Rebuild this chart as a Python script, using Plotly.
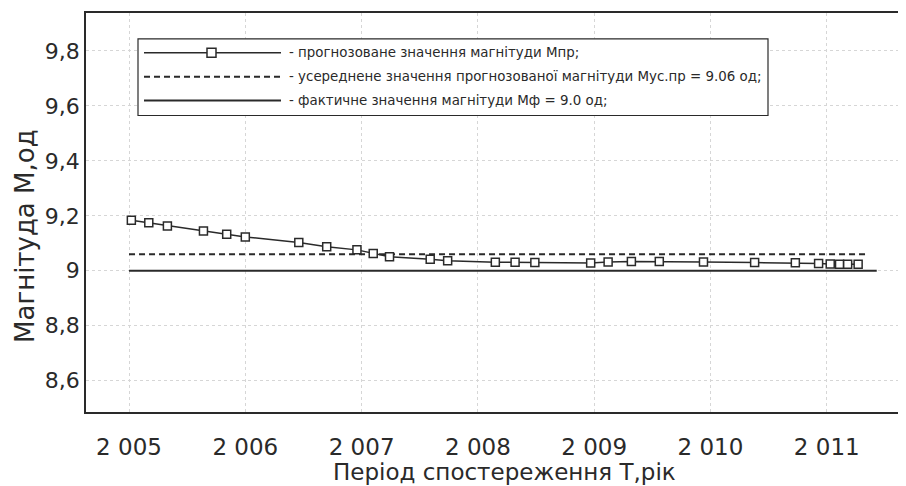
import plotly.graph_objects as go

# ---- data ----
years_forecast = [2005.02, 2005.17, 2005.33, 2005.64, 2005.84, 2006.00, 2006.46, 2006.70,
                  2006.96, 2007.10, 2007.24, 2007.59, 2007.74, 2008.15, 2008.32, 2008.49,
                  2008.97, 2009.12, 2009.32, 2009.56, 2009.94, 2010.38, 2010.73, 2010.93,
                  2011.03, 2011.11, 2011.18, 2011.27]
mag_forecast = [9.184, 9.175, 9.163, 9.145, 9.133, 9.123, 9.103, 9.087,
                9.076, 9.063, 9.051, 9.042, 9.036, 9.031, 9.031, 9.030,
                9.028, 9.032, 9.034, 9.034, 9.032, 9.030, 9.029, 9.026,
                9.025, 9.024, 9.024, 9.024]
avg_years = [2005.0, 2011.35]
avg_value = [9.06, 9.06]
fact_years = [2005.0, 2011.43]
fact_value = [9.0, 9.0]

x_tickvals = [2005, 2006, 2007, 2008, 2009, 2010, 2011]
x_ticktext = ["2 005", "2 006", "2 007", "2 008", "2 009", "2 010", "2 011"]
y_tickvals = [8.6, 8.8, 9.0, 9.2, 9.4, 9.6, 9.8]
y_ticktext = ["8,6", "8,8", "9", "9,2", "9,4", "9,6", "9,8"]

legend_texts = [
    "- прогнозоване значення магнітуди Мпр;",
    "- усереднене значення прогнозованої магнітуди Мус.пр = 9.06 од;",
    "- фактичне значення магнітуди Мф = 9.0 од;",
]
x_title = "Період спостереження Т,рік"
y_title = "Магнітуда М,од"

# ---- layout geometry (page pixels; the page body has an 8px margin) ----
OFF = 8
W, H = 906 - OFF, 486 - OFF
L, R, T, B = 86, 900, 11, 412          # plot frame in page pixels
FONT = "DejaVu Sans, Verdana, sans-serif"
INK = "#2a2a2a"


def px(x):
    return (x - L) / (R - L)


def py(y):
    return (B - y) / (B - T)


fig = go.Figure()
fig.add_trace(go.Scatter(x=fact_years, y=fact_value, mode="lines",
                         line=dict(color=INK, width=2), showlegend=False))
fig.add_trace(go.Scatter(x=avg_years, y=avg_value, mode="lines",
                         line=dict(color=INK, width=2.2, dash="6px,4px"), showlegend=False))
fig.add_trace(go.Scatter(x=years_forecast, y=mag_forecast, mode="lines+markers",
                         line=dict(color=INK, width=1.5),
                         marker=dict(symbol="square", size=8, color="white",
                                     line=dict(color=INK, width=1.5)),
                         showlegend=False))

shapes = []
annotations = []
# legend box
shapes.append(dict(type="rect", xref="paper", yref="paper",
                   x0=px(138), x1=px(768), y0=py(37), y1=py(114),
                   line=dict(color=INK, width=1.2), fillcolor="white", layer="above"))
rows = [51, 75, 99]
for i, ry in enumerate(rows):
    dash = "solid" if i != 1 else "6px,4px"
    shapes.append(dict(type="line", xref="paper", yref="paper",
                       x0=px(144), x1=px(281), y0=py(ry), y1=py(ry),
                       line=dict(color=INK, width=2 if i else 1.5, dash=dash), layer="above"))
    annotations.append(dict(xref="paper", yref="paper", x=px(287), y=py(ry),
                            text=legend_texts[i], showarrow=False, xanchor="left",
                            yanchor="middle", font=dict(family=FONT, size=13.4, color=INK)))
shapes.append(dict(type="rect", xref="paper", yref="paper",
                   x0=px(207), x1=px(216), y0=py(rows[0] - 4.5), y1=py(rows[0] + 4.5),
                   line=dict(color=INK, width=1.5), fillcolor="white", layer="above"))

annotations.append(dict(xref="paper", yref="paper", x=px(504), y=py(472), text=x_title,
                        showarrow=False, xanchor="center", yanchor="middle",
                        font=dict(family=FONT, size=23, color=INK)))
annotations.append(dict(xref="paper", yref="paper", x=px(25), y=py(235), text=y_title,
                        showarrow=False, xanchor="center", yanchor="middle", textangle=-90,
                        font=dict(family=FONT, size=26, color=INK)))

fig.update_layout(
    width=W, height=H,
    margin=dict(l=L - OFF, r=W + OFF - R, t=T - OFF, b=H + OFF - B, pad=0),
    paper_bgcolor="white", plot_bgcolor="white",
    shapes=shapes, annotations=annotations,
    font=dict(family=FONT, color=INK),
    xaxis=dict(range=[2004.63, 2011.63], tickvals=x_tickvals, ticktext=x_ticktext,
               showgrid=True, gridcolor="#d6d6d6", griddash="dot", gridwidth=1,
               showline=True, mirror=True, linecolor=INK, linewidth=1.5,
               ticks="", zeroline=False, ticklabelstandoff=14,
               tickfont=dict(family=FONT, size=23, color=INK)),
    yaxis=dict(range=[8.486, 9.938], tickvals=y_tickvals, ticktext=y_ticktext,
               showgrid=True, gridcolor="#d6d6d6", griddash="dot", gridwidth=1,
               showline=True, mirror=True, linecolor=INK, linewidth=1.5,
               ticks="", zeroline=False, ticklabelstandoff=0,
               tickfont=dict(family=FONT, size=22, color=INK)),
)

fig.write_html("out.html")
